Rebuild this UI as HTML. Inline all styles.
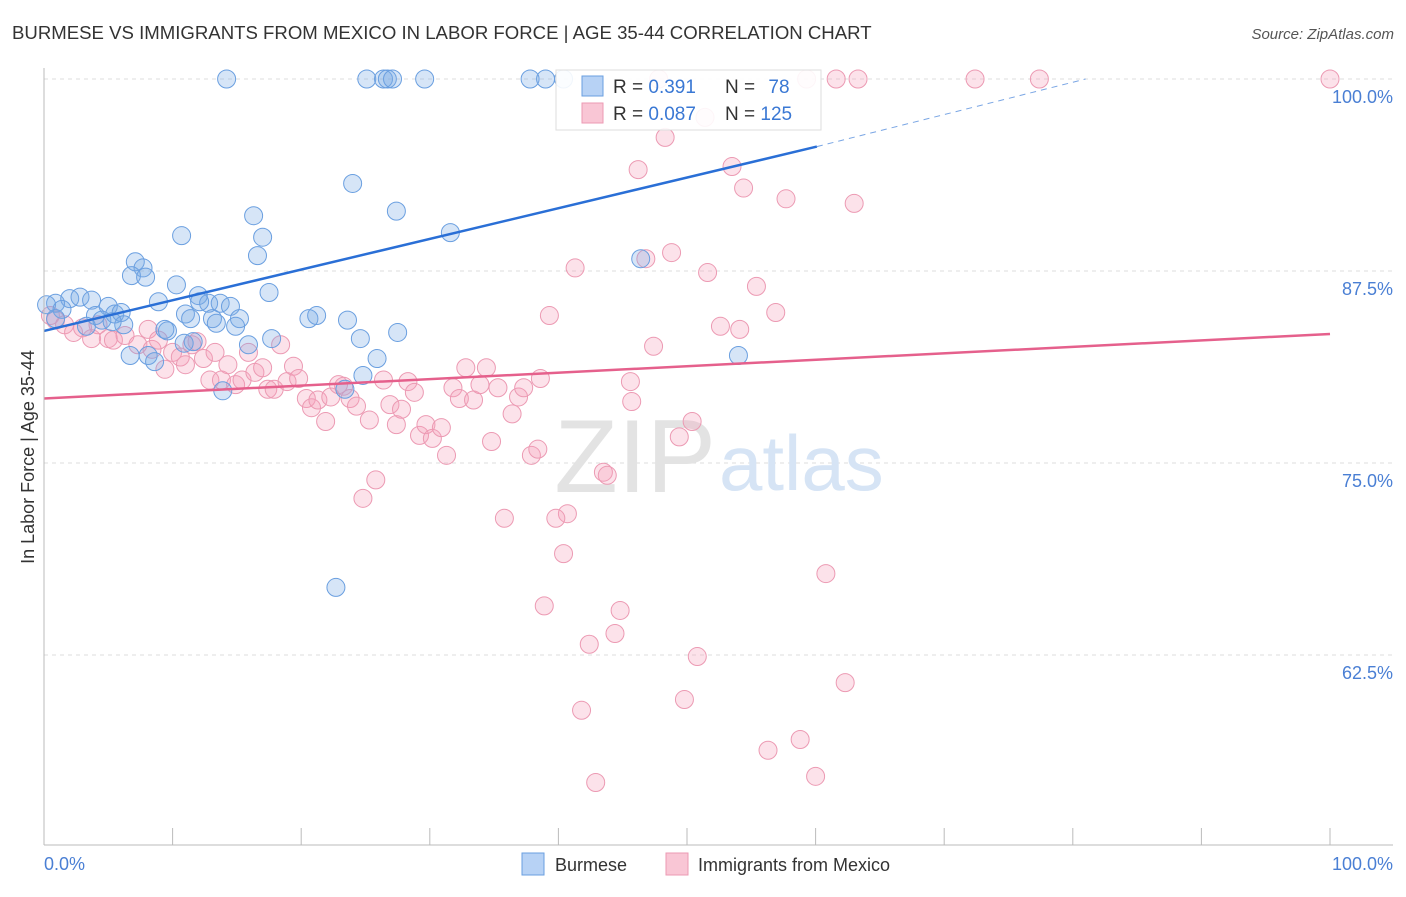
<!DOCTYPE html>
<html><head><meta charset="utf-8"><style>
body{margin:0;background:#fff;font-family:"Liberation Sans",sans-serif}
svg text{font-family:"Liberation Sans",sans-serif}
</style></head><body>
<svg id="chart" width="1406" height="892" xmlns="http://www.w3.org/2000/svg">
<text x="12" y="39" font-size="18.6" fill="#333">BURMESE VS IMMIGRANTS FROM MEXICO IN LABOR FORCE | AGE 35-44 CORRELATION CHART</text>
<text x="1394" y="39" font-size="15" fill="#555" font-style="italic" text-anchor="end">Source: ZipAtlas.com</text>
<g id="grid"></g>
<text x="716" y="492" font-size="104" fill="#e3e3e3" text-anchor="end" font-family="Liberation Serif">ZIP</text>
<text x="719" y="490" font-size="78" fill="#d6e4f5">atlas</text>
<g id="points"></g>
<g id="lines"></g>
<line x1="44" y1="68" x2="44" y2="845" stroke="#bbb"/>
<line x1="44" y1="845" x2="1393" y2="845" stroke="#bbb"/>
<g id="xticks"></g>
<text x="44" y="870" font-size="18" fill="#4a7fd4">0.0%</text>
<text x="1393" y="870" font-size="18" fill="#4a7fd4" text-anchor="end">100.0%</text>
<text transform="translate(34,457) rotate(-90)" font-size="18" fill="#333" text-anchor="middle">In Labor Force | Age 35-44</text>
<g>
<rect x="556" y="70" width="265" height="60" fill="#fff" fill-opacity="0.9" stroke="#ddd"/>
<rect x="582" y="76" width="21" height="20" fill="#b7d2f5" stroke="#6a9fe0"/>
<rect x="582" y="103" width="21" height="20" fill="#f9c6d5" stroke="#ec9ab3"/>
<text x="613" y="93" font-size="19" fill="#333">R = <tspan fill="#3a78d4">0.391</tspan></text>
<text x="725" y="93" font-size="19" fill="#333">N = <tspan fill="#3a78d4" dx="8">78</tspan></text>
<text x="613" y="120" font-size="19" fill="#333">R = <tspan fill="#3a78d4">0.087</tspan></text>
<text x="725" y="120" font-size="19" fill="#333">N = <tspan fill="#3a78d4">125</tspan></text>
</g>
<g>
<rect x="522" y="853" width="22" height="22" fill="#b7d2f5" stroke="#6a9fe0"/>
<text x="555" y="871" font-size="18" fill="#333">Burmese</text>
<rect x="666" y="853" width="22" height="22" fill="#f9c6d5" stroke="#ec9ab3"/>
<text x="698" y="871" font-size="18" fill="#333">Immigrants from Mexico</text>
</g>
</svg>
<script>
const yTicks=[100,87.5,75,62.5];
const yTickLabels=["100.0%","87.5%","75.0%","62.5%"];
const xTicks=[0,10,20,30,40,50,60,70,80,90,100];
const blueX=[14.2,25.1,26.4,26.7,27.1,29.6,37.8,39.0,40.4,24.0,27.4,16.3,31.6,10.7,17.0,16.6,7.1,7.7,6.8,7.9,10.3,17.5,46.4,0.9,2.0,2.8,3.7,5.0,8.9,12.0,12.8,13.7,14.5,11.0,11.4,13.1,13.4,15.2,14.9,20.6,21.2,23.6,27.5,24.6,17.7,15.9,9.6,11.6,10.9,8.1,6.7,8.6,25.9,24.8,13.9,54.0,22.7,0.2,1.4,4.0,4.5,5.5,6.0,6.2,5.3,3.3,0.9,9.4,12.1,23.4];
const blueY=[100,100,100,100,100,100,100,100,100,93.2,91.4,91.1,90.0,89.8,89.7,88.5,88.1,87.7,87.2,87.1,86.6,86.1,88.3,85.4,85.7,85.8,85.6,85.2,85.5,85.9,85.4,85.4,85.2,84.7,84.4,84.4,84.1,84.4,83.9,84.4,84.6,84.3,83.5,83.1,83.1,82.7,83.6,82.9,82.8,82.0,82.0,81.6,81.8,80.7,79.7,82.0,66.9,85.3,85.0,84.6,84.3,84.7,84.8,84.0,84.2,83.9,84.4,83.7,85.5,79.8];
const pinkX=[47.8,59.3,61.6,63.3,72.4,77.4,100,51.4,48.3,46.2,53.5,54.4,57.7,63.0,41.3,46.8,48.8,51.6,55.4,56.9,52.6,54.1,39.3,47.4,45.6,45.7,50.4,49.4,43.5,43.8,40.7,39.8,35.8,40.4,60.8,38.9,44.8,44.4,42.4,50.8,62.3,49.8,41.8,58.8,56.3,60.0,42.9,0.5,0.9,1.6,2.3,3.0,3.7,4.2,5.0,5.4,6.3,7.3,8.1,8.4,8.9,9.4,10.0,10.6,11.0,11.5,11.9,12.4,12.9,13.3,13.8,14.3,14.9,15.4,15.9,16.4,17.0,17.4,17.9,18.4,18.9,19.4,19.8,20.4,20.8,21.3,21.9,22.3,22.9,23.3,23.8,24.3,24.8,25.3,25.8,26.4,26.9,27.4,27.8,28.3,28.8,29.2,29.7,30.2,30.9,31.3,31.8,32.3,32.8,33.4,33.9,34.4,34.8,35.3,36.4,36.9,37.3,37.9,38.4,38.6];
const pinkY=[100,100,100,100,100,100,100,97.5,96.2,94.1,94.3,92.9,92.2,91.9,87.7,88.3,88.7,87.4,86.5,84.8,83.9,83.7,84.6,82.6,80.3,79.0,77.7,76.7,74.4,74.2,71.7,71.4,71.4,69.1,67.8,65.7,65.4,63.9,63.2,62.4,60.7,59.6,58.9,57.0,56.3,54.6,54.2,84.6,84.3,84.0,83.5,83.8,83.1,84.0,83.1,83.0,83.3,82.7,83.7,82.4,83.0,81.1,82.2,81.9,81.4,82.7,82.9,81.8,80.4,82.2,80.4,81.4,80.1,80.4,82.2,80.9,81.2,79.8,79.8,82.7,80.3,81.3,80.5,79.2,78.6,79.1,77.7,79.3,80.1,80.0,79.2,78.7,72.7,77.8,73.9,80.4,78.8,77.5,78.5,80.3,79.6,76.8,77.5,76.6,77.3,75.5,79.9,79.2,81.2,79.1,80.1,81.2,76.4,79.9,78.2,79.3,79.9,75.5,75.9,80.5];
const blueTrend=[[0,83.6],[60.1,95.6]];
const blueTrendExt=[[60.1,95.6],[81,100]];
const pinkTrend=[[0,79.2],[100,83.4]];

const NS="http://www.w3.org/2000/svg";
const sx=v=>44+v*12.86;
const sy=v=>79+(100-v)*15.36;
function mk(tag,attrs,parent){const e=document.createElementNS(NS,tag);for(const k in attrs)e.setAttribute(k,attrs[k]);parent.appendChild(e);return e;}
const grid=document.getElementById('grid');
yTicks.forEach((t,i)=>{
  const l=mk('line',{x1:44,x2:1393,y1:sy(t),y2:sy(t),stroke:'#ddd','stroke-dasharray':'4,4'},grid);
  
  
  const tx=mk('text',{x:1393,y:sy(t)+24,'font-size':18,fill:'#4a7fd4','text-anchor':'end'},grid);
  tx.textContent=yTickLabels[i];
  
  
});
const xt=document.getElementById('xticks');
xTicks.forEach(t=>{
  const l=mk('line',{x1:sx(t),x2:sx(t),y1:828,y2:845,stroke:'#bbb'},xt);
  
  
});
const pts=document.getElementById('points');
pinkX.forEach((x,i)=>{
  const c=mk('circle',{cx:sx(x),cy:sy(pinkY[i]),r:9,fill:'rgba(245,160,185,0.3)',stroke:'#ec9ab3','stroke-width':1},pts);
  
  
});
blueX.forEach((x,i)=>{
  const c=mk('circle',{cx:sx(x),cy:sy(blueY[i]),r:(x===0?17:9),fill:'rgba(120,170,230,0.3)',stroke:'#6a9fe0','stroke-width':1},pts);
  
  
});
const ln=document.getElementById('lines');
function seg(p,st,dash,w){const l=mk('line',{x1:sx(p[0][0]),y1:sy(p[0][1]),x2:sx(p[1][0]),y2:sy(p[1][1]),stroke:st,'stroke-width':w},ln);if(dash)l.setAttribute('stroke-dasharray',dash);return l;}
let a=seg(blueTrend,'#2a6fd6',null,2.5);


let b=seg(blueTrendExt,'#7aa6e4','6,5',1);


let c=seg(pinkTrend,'#e5608c',null,2.5);


</script>
</body></html>
